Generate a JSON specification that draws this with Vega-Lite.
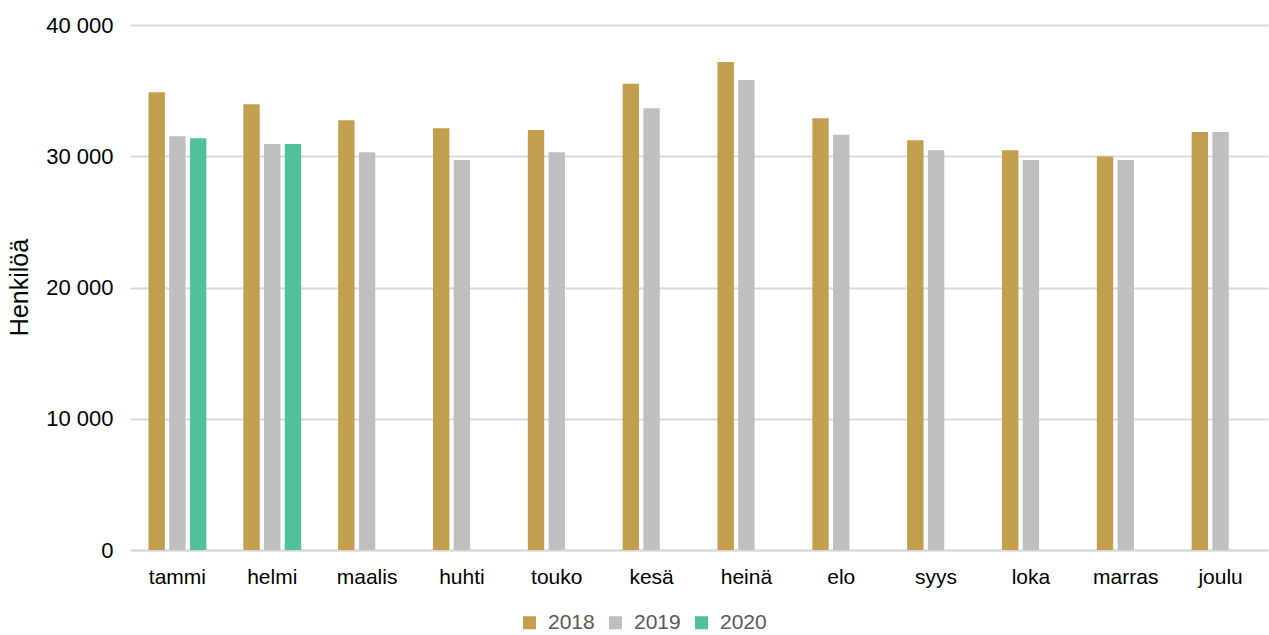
{
  "$schema": "https://vega.github.io/schema/vega-lite/v6.json",
  "autosize": {"type": "none"},
  "padding": {"left": 130, "top": 25, "right": 1, "bottom": 85},
  "width": 1138,
  "height": 525,
  "background": "white",
  "config": {
    "font": "Liberation Sans",
    "view": {"stroke": null}
  },
  "data": {
    "values": [
      {"kuukausi": "tammi", "vuosi": "2018", "henkiloa": 34870},
      {"kuukausi": "tammi", "vuosi": "2019", "henkiloa": 31520},
      {"kuukausi": "tammi", "vuosi": "2020", "henkiloa": 31370},
      {"kuukausi": "helmi", "vuosi": "2018", "henkiloa": 33960},
      {"kuukausi": "helmi", "vuosi": "2019", "henkiloa": 30930},
      {"kuukausi": "helmi", "vuosi": "2020", "henkiloa": 30930},
      {"kuukausi": "maalis", "vuosi": "2018", "henkiloa": 32740},
      {"kuukausi": "maalis", "vuosi": "2019", "henkiloa": 30300},
      {"kuukausi": "huhti", "vuosi": "2018", "henkiloa": 32130},
      {"kuukausi": "huhti", "vuosi": "2019", "henkiloa": 29710},
      {"kuukausi": "touko", "vuosi": "2018", "henkiloa": 32000},
      {"kuukausi": "touko", "vuosi": "2019", "henkiloa": 30300},
      {"kuukausi": "kesä", "vuosi": "2018", "henkiloa": 35530},
      {"kuukausi": "kesä", "vuosi": "2019", "henkiloa": 33650},
      {"kuukausi": "heinä", "vuosi": "2018", "henkiloa": 37190},
      {"kuukausi": "heinä", "vuosi": "2019", "henkiloa": 35810},
      {"kuukausi": "elo", "vuosi": "2018", "henkiloa": 32890},
      {"kuukausi": "elo", "vuosi": "2019", "henkiloa": 31640},
      {"kuukausi": "syys", "vuosi": "2018", "henkiloa": 31210},
      {"kuukausi": "syys", "vuosi": "2019", "henkiloa": 30450},
      {"kuukausi": "loka", "vuosi": "2018", "henkiloa": 30450},
      {"kuukausi": "loka", "vuosi": "2019", "henkiloa": 29710},
      {"kuukausi": "marras", "vuosi": "2018", "henkiloa": 29990},
      {"kuukausi": "marras", "vuosi": "2019", "henkiloa": 29710},
      {"kuukausi": "joulu", "vuosi": "2018", "henkiloa": 31840},
      {"kuukausi": "joulu", "vuosi": "2019", "henkiloa": 31840}
    ]
  },
  "mark": {"type": "bar"},
  "encoding": {
    "x": {
      "field": "kuukausi",
      "type": "nominal",
      "sort": ["tammi", "helmi", "maalis", "huhti", "touko", "kesä", "heinä", "elo", "syys", "loka", "marras", "joulu"],
      "scale": {"paddingInner": 0.39, "paddingOuter": 0.195},
      "axis": {
        "title": null,
        "labelAngle": 0,
        "labelFontSize": 21,
        "labelColor": "#000000",
        "labelBaseline": "alphabetic",
        "labelPadding": 33,
        "ticks": false,
        "domain": true,
        "domainColor": "#d9d9d9",
        "domainWidth": 2,
        "grid": false
      }
    },
    "xOffset": {
      "field": "vuosi",
      "type": "nominal",
      "scale": {"domain": ["2018", "2019", "2020"], "paddingInner": 0.21, "paddingOuter": 0}
    },
    "y": {
      "field": "henkiloa",
      "type": "quantitative",
      "scale": {"domain": [0, 40000], "nice": false},
      "axis": {
        "title": "Henkilöä",
        "titleFontSize": 25,
        "titleFontWeight": "normal",
        "titleColor": "#000000",
        "titleAngle": -90,
        "titleX": -111,
        "titleY": 262,
        "titleAlign": "center",
        "titleBaseline": "middle",
        "values": [0, 10000, 20000, 30000, 40000],
        "labelExpr": "replace(format(datum.value, ','), ',', ' ')",
        "labelFontSize": 22,
        "labelColor": "#000000",
        "labelPadding": 17,
        "ticks": false,
        "domain": false,
        "grid": true,
        "gridColor": "#d9d9d9",
        "gridWidth": 2
      }
    },
    "color": {
      "field": "vuosi",
      "type": "nominal",
      "scale": {"domain": ["2018", "2019", "2020"], "range": ["#c19f4e", "#bfbfbf", "#50c09d"]},
      "legend": {
        "title": null,
        "orient": "none",
        "direction": "horizontal",
        "legendX": 389,
        "legendY": 587,
        "symbolType": "square",
        "symbolSize": 169,
        "symbolStrokeWidth": 0,
        "labelFontSize": 21,
        "labelColor": "#595959",
        "labelOffset": 8,
        "columnPadding": 10
      }
    }
  }
}
